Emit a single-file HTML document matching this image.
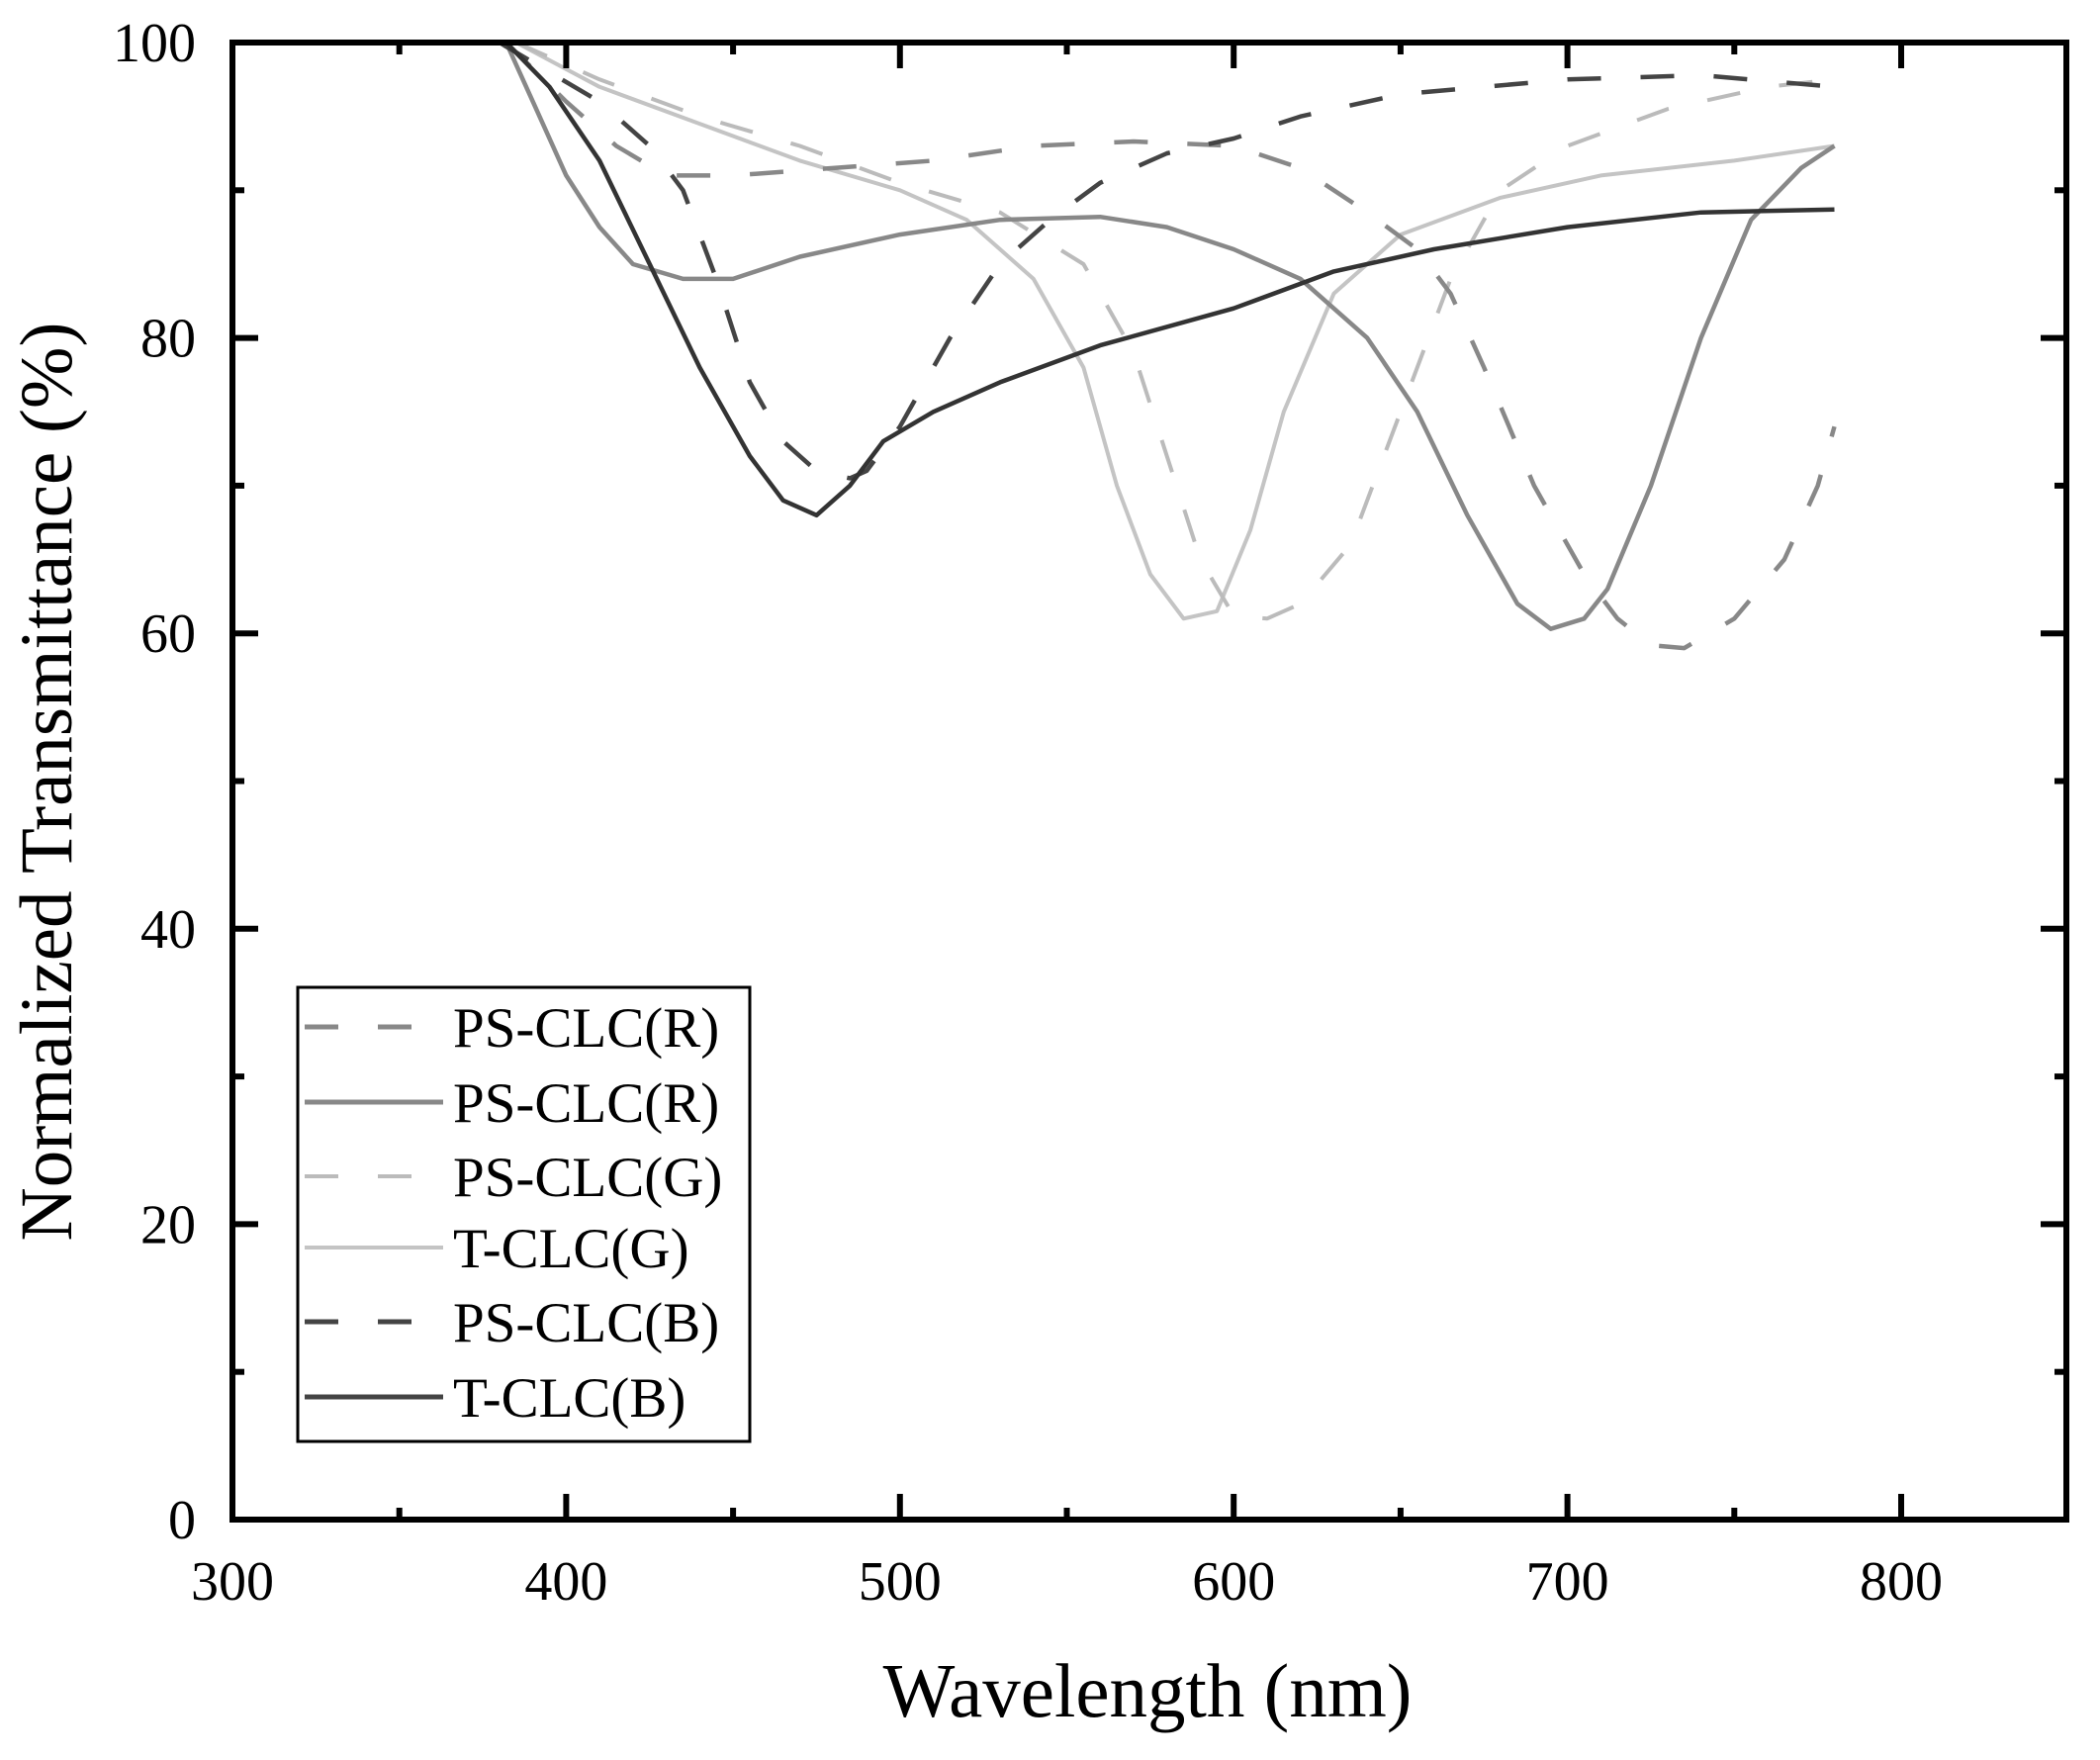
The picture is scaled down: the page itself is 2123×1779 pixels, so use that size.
<!DOCTYPE html>
<html><head><meta charset="utf-8"><style>
html,body{margin:0;padding:0;background:#fff;}
svg{display:block;}
text{font-family:"Liberation Serif",serif;fill:#000;}
</style></head><body>
<svg width="2123" height="1779" viewBox="0 0 2123 1779" xmlns="http://www.w3.org/2000/svg">
<g fill="none" stroke-linejoin="round">
<polyline stroke="#c4c4c4" stroke-width="4" points="521.8,43 606.1,87.8 707.4,125.1 808.6,162.4 909.8,192.3 977.3,222.2 1044.8,281.9 1095.4,371.5 1129.1,490.9 1162.9,580.5 1196.6,625.3 1230.3,617.8 1264.1,535.7 1297.8,416.3 1348.4,296.8 1415.9,237.1 1517.1,199.8 1618.3,177.4 1753.3,162.4 1854.5,147.5"/>
<polyline stroke="#bbb" stroke-width="4" stroke-dasharray="34 40" points="521.8,43 606.1,80.3 707.4,117.7 808.6,147.5 909.8,184.8 1011,214.7 1095.4,267 1146,356.5 1179.7,461 1213.5,565.5 1247.2,622.3 1280.9,625.3 1314.7,610.3 1365.3,550.6 1415.9,416.3 1466.5,281.9 1517.1,192.3 1584.6,147.5 1685.8,110.2 1787,87.8 1854.5,80.3"/>
<polyline stroke="#888" stroke-width="4.5" stroke-dasharray="34 40" points="511.7,43 572.4,102.7 623,147.5 673.6,177.4 741.1,177.4 842.3,169.9 943.5,162.4 1044.8,147.5 1146,143 1247.2,147.5 1314.7,169.9 1382.2,214.7 1432.8,252 1466.5,296.8 1500.3,371.5 1550.9,490.9 1601.5,580.5 1635.2,625.3 1669,652.1 1702.7,655.1 1753.3,625.3 1803.9,565.5 1837.7,490.9 1854.5,431.2"/>
<polyline stroke="#888" stroke-width="4.5" points="511.7,43 538.7,102.7 572.4,177.4 606.1,229.6 639.9,267 690.5,281.9 741.1,281.9 808.6,259.5 909.8,237.1 1011,222.2 1112.2,219.2 1179.7,229.6 1247.2,252 1314.7,281.9 1382.2,341.6 1432.8,416.3 1483.4,520.8 1534,610.3 1567.7,635.7 1601.5,625.3 1625.1,595.4 1669,490.9 1719.6,341.6 1770.2,222.2 1820.8,169.9 1854.5,147.5"/>
<polyline stroke="#444" stroke-width="4.5" stroke-dasharray="34 40" points="504.9,43 555.5,73 606.1,102.7 656.8,147.5 690.5,192.3 724.2,281.9 758,386.4 791.7,446.1 825.5,476 859.2,483.4 876.1,476 909.8,431.2 960.4,341.6 1011,267 1061.6,222.2 1112.2,184.8 1179.7,155 1247.2,140 1314.7,117.7 1415.9,95.3 1584.6,80.3 1719.6,76 1854.5,87.8"/>
<polyline stroke="#333" stroke-width="4.5" points="511.7,43 555.5,87.8 606.1,162.4 656.8,267 707.4,371.5 758,461 791.7,505.8 825.5,520.8 859.2,490.9 892.9,446.1 943.5,416.3 1011,386.4 1112.2,349.1 1247.2,311.7 1348.4,274.4 1449.6,252 1584.6,229.6 1719.6,214.7 1854.5,211.7"/>
</g>
<rect x="235" y="43" width="1854" height="1493" fill="none" stroke="#000" stroke-width="6"/>
<g stroke="#000" stroke-width="6">
<line x1="572.4" y1="1536" x2="572.4" y2="1510"/><line x1="572.4" y1="43" x2="572.4" y2="69"/>
<line x1="909.8" y1="1536" x2="909.8" y2="1510"/><line x1="909.8" y1="43" x2="909.8" y2="69"/>
<line x1="1247.2" y1="1536" x2="1247.2" y2="1510"/><line x1="1247.2" y1="43" x2="1247.2" y2="69"/>
<line x1="1584.6" y1="1536" x2="1584.6" y2="1510"/><line x1="1584.6" y1="43" x2="1584.6" y2="69"/>
<line x1="1922" y1="1536" x2="1922" y2="1510"/><line x1="1922" y1="43" x2="1922" y2="69"/>
<line x1="403.7" y1="1536" x2="403.7" y2="1524"/><line x1="403.7" y1="43" x2="403.7" y2="55"/>
<line x1="741.1" y1="1536" x2="741.1" y2="1524"/><line x1="741.1" y1="43" x2="741.1" y2="55"/>
<line x1="1078.5" y1="1536" x2="1078.5" y2="1524"/><line x1="1078.5" y1="43" x2="1078.5" y2="55"/>
<line x1="1415.9" y1="1536" x2="1415.9" y2="1524"/><line x1="1415.9" y1="43" x2="1415.9" y2="55"/>
<line x1="1753.3" y1="1536" x2="1753.3" y2="1524"/><line x1="1753.3" y1="43" x2="1753.3" y2="55"/>
<line x1="235" y1="1237.4" x2="261" y2="1237.4"/><line x1="2089" y1="1237.4" x2="2063" y2="1237.4"/>
<line x1="235" y1="938.8" x2="261" y2="938.8"/><line x1="2089" y1="938.8" x2="2063" y2="938.8"/>
<line x1="235" y1="640.2" x2="261" y2="640.2"/><line x1="2089" y1="640.2" x2="2063" y2="640.2"/>
<line x1="235" y1="341.6" x2="261" y2="341.6"/><line x1="2089" y1="341.6" x2="2063" y2="341.6"/>
<line x1="235" y1="1386.7" x2="247" y2="1386.7"/><line x1="2089" y1="1386.7" x2="2077" y2="1386.7"/>
<line x1="235" y1="1088.1" x2="247" y2="1088.1"/><line x1="2089" y1="1088.1" x2="2077" y2="1088.1"/>
<line x1="235" y1="789.5" x2="247" y2="789.5"/><line x1="2089" y1="789.5" x2="2077" y2="789.5"/>
<line x1="235" y1="490.9" x2="247" y2="490.9"/><line x1="2089" y1="490.9" x2="2077" y2="490.9"/>
<line x1="235" y1="192.3" x2="247" y2="192.3"/><line x1="2089" y1="192.3" x2="2077" y2="192.3"/>
</g>
<g font-size="56">
<text x="235" y="1617" text-anchor="middle">300</text>
<text x="572.4" y="1617" text-anchor="middle">400</text>
<text x="909.8" y="1617" text-anchor="middle">500</text>
<text x="1247.2" y="1617" text-anchor="middle">600</text>
<text x="1584.6" y="1617" text-anchor="middle">700</text>
<text x="1922" y="1617" text-anchor="middle">800</text>
<text x="198" y="1555" text-anchor="end">0</text>
<text x="198" y="1256.4" text-anchor="end">20</text>
<text x="198" y="957.8" text-anchor="end">40</text>
<text x="198" y="659.2" text-anchor="end">60</text>
<text x="198" y="360.6" text-anchor="end">80</text>
<text x="198" y="62" text-anchor="end">100</text>
</g>
<text x="1160" y="1735" font-size="77" text-anchor="middle">Wavelength (nm)</text>
<text transform="translate(72,790) rotate(-90)" font-size="75" text-anchor="middle">Normalized Transmittance (%)</text>
<rect x="301" y="998" width="457" height="459" fill="#fff" stroke="#000" stroke-width="3"/>
<g font-size="57">
<line x1="308" y1="1038" x2="448" y2="1038" stroke="#888" stroke-width="5" stroke-dasharray="34 40"/>
<text x="458" y="1058">PS-CLC(R)</text>
<line x1="308" y1="1114" x2="448" y2="1114" stroke="#888" stroke-width="5"/>
<text x="458" y="1134">PS-CLC(R)</text>
<line x1="308" y1="1189" x2="448" y2="1189" stroke="#bbb" stroke-width="4" stroke-dasharray="34 40"/>
<text x="458" y="1209">PS-CLC(G)</text>
<line x1="308" y1="1261" x2="448" y2="1261" stroke="#c4c4c4" stroke-width="4"/>
<text x="458" y="1281">T-CLC(G)</text>
<line x1="308" y1="1336" x2="448" y2="1336" stroke="#444" stroke-width="5" stroke-dasharray="34 40"/>
<text x="458" y="1356">PS-CLC(B)</text>
<line x1="308" y1="1412" x2="448" y2="1412" stroke="#444" stroke-width="5"/>
<text x="458" y="1432">T-CLC(B)</text>
</g>
</svg>
</body></html>
